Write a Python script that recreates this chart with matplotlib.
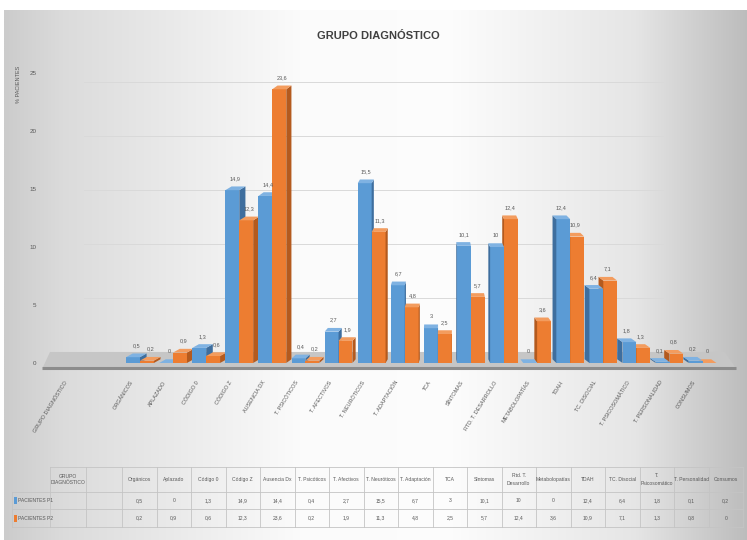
import numpy as np
import matplotlib
matplotlib.use('Agg')
import matplotlib.pyplot as plt
from matplotlib.patches import Polygon, Rectangle
from matplotlib import font_manager

# data
categories = ["Orgánicos", "Aplazado", "Código 0", "Código Z", "Ausencia Dx",
              "T. Psicóticos", "T. Afectivos", "T. Neuróticos", "T. Adaptación",
              "TCA", "Síntomas", "Rtd. T. Desarrollo", "Metabolopatías", "TDAH",
              "TC. Disocial", "T. Psicosomático", "T. Personalidad", "Consumos"]
header_cells = ["Orgánicos", "Aplazado", "Código 0", "Código Z", "Ausencia Dx",
                "T. Psicóticos", "T. Afectivos", "T. Neuróticos", "T. Adaptación",
                "TCA", "Síntomas", "Rtd. T.\nDesarrollo", "Metabolopatías", "TDAH",
                "TC. Disocial", "T.\nPsicosomático", "T. Personalidad", "Consumos"]
p1 = [0.5, 0, 1.3, 14.9, 14.4, 0.4, 2.7, 15.5, 6.7, 3, 10.1, 10, 0, 12.4, 6.4, 1.8, 0.1, 0.2]
p2 = [0.2, 0.9, 0.6, 12.3, 23.6, 0.2, 1.9, 11.3, 4.8, 2.5, 5.7, 12.4, 3.6, 10.9, 7.1, 1.3, 0.8, 0]
series_names = ["PACIENTES P1", "PACIENTES P2"]
yticks = [0, 5, 10, 15, 20, 25]

names = {f.name for f in font_manager.fontManager.ttflist}
FONT = 'Liberation Sans Narrow' if 'Liberation Sans Narrow' in names else 'Liberation Sans'
plt.rcParams['font.family'] = [FONT, 'DejaVu Sans']

BLUE, BLUE_SIDE, BLUE_TOP = '#5B9BD5', '#3E6E9E', '#7FB2E2'
ORANGE, ORANGE_SIDE, ORANGE_TOP = '#ED7D31', '#B45A1E', '#F39C5E'
TXT = '#595959'


def fmt(v):
    return f"{v:g}".replace('.', ',')


W, H = 747, 540
fig = plt.figure(figsize=(W / 100, H / 100), dpi=100)

# background with grey gradient, pixel coordinates
bg = fig.add_axes([0, 0, 1, 1])
bg.set_xlim(0, W)
bg.set_ylim(H, 0)
bg.axis('off')
xs = np.linspace(0, 1, 400)
shade = np.interp(xs, [0, 0.08, 0.4, 0.6, 0.85, 1.0], [0.80, 0.86, 0.985, 0.99, 0.90, 0.74])
grad = np.dstack([shade, shade, shade])[np.zeros(10, dtype=int)]
bg.imshow(grad, extent=(4, W, H, 10), aspect='auto', interpolation='bilinear')

# title and y-axis caption
fig.text(378 / W, 1 - 36 / H, "GRUPO DIAGNÓSTICO", ha='center', va='center',
         fontsize=8, fontweight='bold', color='#404040')
fig.text(18 / W, 1 - 84 / H, "% PACIENTES", rotation=90, ha='center', va='center',
         fontsize=4, color=TXT)

# main chart
ax = fig.add_axes([40.7 / W, 1 - 376.9 / H, (739 - 40.7) / W, (376.9 - 55.6) / H])
ax.patch.set_alpha(0)
ax.set_xlim(-1.0, 20.1)
ax.set_ylim(-1.2, 26.5)
for s in ax.spines.values():
    s.set_visible(False)
ax.set_xticks([])
ax.set_yticks(yticks)
ax.set_yticklabels([str(t) for t in yticks], fontsize=4.5, color=TXT)
ax.tick_params(axis='y', length=0, pad=3)

# back wall grid lines
for t in yticks[1:]:
    ax.plot([0.3, 17.8], [0.95 + 0.93 * t] * 2, color='#d9d9d9', lw=0.7, zorder=0)

# floor
ax.add_patch(Polygon([(-0.93, -0.35), (19.98, -0.35), (19.67, 0.95), (-0.72, 0.95)],
                     closed=True, facecolor='#c6c6c6', edgecolor='none', zorder=1))
ax.plot([-0.95, 20.0], [-0.42, -0.42], color='#8c8c8c', lw=2.2, zorder=1,
        solid_capstyle='butt')

idx = np.arange(len(categories)) + 2
bw, dy = 0.42, 0.32


def bar3d(xc, v, front, side, top, dx):
    x0 = xc - bw / 2
    ax.bar(xc, v, width=bw, color=front, zorder=3, linewidth=0)
    if dx >= 0:
        xs_ = x0 + bw
    else:
        xs_ = x0
    ax.add_patch(Polygon([(xs_, 0), (xs_ + dx, dy), (xs_ + dx, v + dy), (xs_, v)],
                         closed=True, facecolor=side, edgecolor='none', zorder=3))
    ax.add_patch(Polygon([(x0, v), (x0 + bw, v), (x0 + bw + dx, v + dy), (x0 + dx, v + dy)],
                         closed=True, facecolor=top, edgecolor='none', zorder=3))


for i, x in enumerate(idx):
    dx = float(np.clip(0.03 * (11.2 - x), -0.16, 0.2))
    specs = [(x - bw / 2, p1[i], BLUE, BLUE_SIDE, BLUE_TOP),
             (x + bw / 2, p2[i], ORANGE, ORANGE_SIDE, ORANGE_TOP)]
    if dx < 0:
        specs = specs[::-1]
    for xc, v, f, sd, tp in specs:
        bar3d(xc, v, f, sd, tp, dx)
        ax.text(xc + dx / 2, v + dy + 0.45, fmt(v), ha='center', va='bottom',
                fontsize=4, color=TXT, zorder=5)

# rotated category labels
xlabels = ["GRUPO DIAGNÓSTICO", ""] + [c.upper() for c in categories]
for j, lab in enumerate(xlabels):
    ax.text(j - 0.3, -1.45, lab.upper(), rotation=58, rotation_mode='anchor',
            ha='right', va='top', fontsize=4, color=TXT, clip_on=False)

# data table below the chart (pixel coordinates)
cols = [50, 86, 122] + [122 + 34.5 * (k + 1) for k in range(len(categories))]
rows = [467, 492, 509, 527]
lc = '#c4c4c4'
bg.plot([50, cols[-1]], [rows[0]] * 2, color=lc, lw=0.6)
for r in rows[1:]:
    bg.plot([12, cols[-1]], [r, r], color=lc, lw=0.6)
bg.plot([12, 12], [rows[1], rows[3]], color=lc, lw=0.6)
for c in cols:
    bg.plot([c, c], [rows[0], rows[3]], color=lc, lw=0.6)

bg.text((cols[0] + cols[1]) / 2, (rows[0] + rows[1]) / 2, "GRUPO\nDIAGNÓSTICO",
        ha='center', va='center', fontsize=3.6, color=TXT, linespacing=1.4)
for k, lab in enumerate(header_cells):
    xc = (cols[k + 2] + cols[k + 3]) / 2
    bg.text(xc, (rows[0] + rows[1]) / 2, lab, ha='center', va='center',
            fontsize=3.6, color=TXT, linespacing=1.6)

for r, (name, vals, col) in enumerate(zip(series_names, [p1, p2], [BLUE, ORANGE])):
    yc = (rows[r + 1] + rows[r + 2]) / 2
    bg.add_patch(Rectangle((14, yc - 3.5), 3, 7, facecolor=col, edgecolor='none'))
    bg.text(18, yc, name, ha='left', va='center', fontsize=3.6, color=TXT)
    for k, v in enumerate(vals):
        xc = (cols[k + 2] + cols[k + 3]) / 2
        bg.text(xc, yc, fmt(v), ha='center', va='center', fontsize=3.6, color=TXT)

fig.savefig('out.png', dpi=100)
